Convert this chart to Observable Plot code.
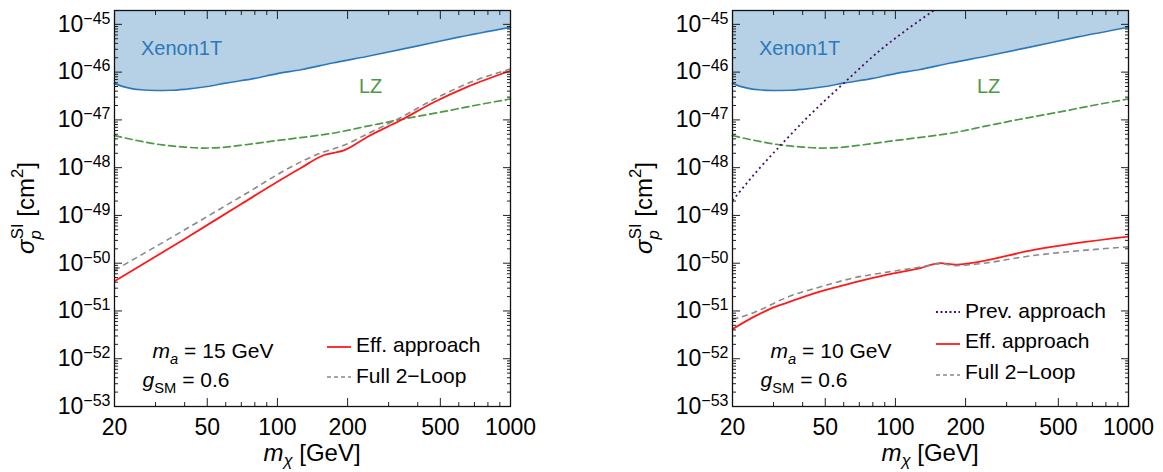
<!DOCTYPE html>
<html><head><meta charset="utf-8">
<script src="https://cdn.jsdelivr.net/npm/d3@7"></script>
<script src="https://cdn.jsdelivr.net/npm/@observablehq/plot@0.6"></script>
<style>
body{margin:0;background:#fff;}
#wrap{position:relative;width:1163px;height:472px;overflow:hidden;background:#fff;}
#wrap svg{position:absolute;top:0;}
</style></head><body><div id="wrap"></div>
<script>
// ---------- data ----------
const xMajor = [20, 50, 100, 200, 500, 1000];
const xMinor = [30, 40, 60, 70, 80, 90, 300, 400, 600, 700, 800, 900];
const yExponents = [-53, -52, -51, -50, -49, -48, -47, -46, -45];
const yTop = 1.95e-45;

const xenonMass  = [20, 22, 24, 26, 30, 35, 40, 50, 60, 80, 100, 126, 172, 250, 400, 600, 1000];
const xenonSigma = [5.75e-47, 4.9e-47, 4.47e-47, 4.27e-47, 4.12e-47, 4.17e-47, 4.37e-47, 5.0e-47, 5.9e-47, 7.4e-47, 9.3e-47, 1.12e-46, 1.55e-46, 2.2e-46, 3.55e-46, 5.4e-46, 8.7e-46];

const lzMass  = [20, 25, 32, 40, 48, 60, 73, 100, 126, 172, 250, 338, 500, 700, 1000];
const lzSigma = [4.7e-48, 3.7e-48, 3.0e-48, 2.7e-48, 2.57e-48, 2.69e-48, 3.02e-48, 3.7e-48, 4.27e-48, 5.25e-48, 7.6e-48, 1.02e-47, 1.45e-47, 2.0e-47, 2.75e-47];

// left panel (m_a = 15 GeV)
const effLeftMass  = [20, 40, 70, 126, 158, 175, 193, 243, 338, 469, 653, 1000];
const effLeftSigma = [4.2e-51, 3.2e-50, 1.74e-49, 9.8e-49, 1.82e-48, 2.04e-48, 2.3e-48, 4.4e-48, 9.8e-48, 2.34e-47, 4.9e-47, 1.07e-46];
const fullLeftMass  = [20, 40, 70, 126, 158, 175, 193, 243, 338, 469, 653, 1000];
const fullLeftSigma = [7.1e-51, 5.0e-50, 2.5e-49, 1.32e-48, 2.14e-48, 2.5e-48, 2.95e-48, 5.1e-48, 1.12e-47, 2.7e-47, 5.75e-47, 1.17e-46];

// right panel (m_a = 10 GeV)
const prevRightMass  = [20, 25.6, 32.2, 42.1, 60.1, 86.2, 112.6, 146, 180];
const prevRightSigma = [2.04e-49, 8.7e-49, 2.95e-48, 1.15e-47, 5.9e-47, 2.9e-46, 7.9e-46, 1.95e-45, 3.9e-45];
const effRightMass  = [20, 24.8, 29.2, 34.4, 47.8, 66, 92.2, 128, 156, 181, 210, 392, 1000];
const effRightSigma = [4.17e-52, 7.6e-52, 1.12e-51, 1.5e-51, 2.57e-51, 3.9e-51, 5.75e-51, 7.9e-51, 1.0e-50, 9.3e-51, 1.0e-50, 1.9e-50, 3.6e-50];
const fullRightMass  = [20, 24.8, 34.4, 47.8, 66, 92.2, 128, 156, 181, 210, 392, 1000];
const fullRightSigma = [6.6e-52, 9.3e-52, 1.95e-51, 3.2e-51, 4.9e-51, 6.5e-51, 8.3e-51, 9.8e-51, 8.9e-51, 9.3e-51, 1.45e-50, 2.2e-50];

const labelText  = ["Xenon1T", "LZ"];
const labelMass  = [38.8, 251];
const labelSigma = [3.16e-46, 5.0e-47];

// ---------- helpers ----------
const table = (ms, ss) => ms.map((m, i) => ({m, s: ss[i]}));
const C = {xenonFill: "#b6d0e6", xenon: "#2b79b9", lz: "#4c9a43", eff: "#ff1a1a", full: "#8a8a8a", prev: "#4b0f63"};
const FONT = "'Liberation Sans', Arial, Helvetica, sans-serif";

function rich(g, x, y, parts, {anchor = "start", size = 21, rotate = 0, fill = "black"} = {}) {
  const t = g.append("text").attr("text-anchor", anchor).attr("font-size", size).attr("fill", fill)
    .attr("transform", `translate(${x},${y})` + (rotate ? ` rotate(${rotate})` : ""));
  let shift = 0;
  for (const p of parts) {
    const ts = t.append("tspan").text(p.t);
    const target = p.sub ? (p.subShift ?? 0.3) * size : p.sup ? -0.45 * size : 0;
    const dy = target - shift;
    if (dy !== 0) { ts.attr("dy", dy); shift = target; }
    if (p.sub || p.sup) ts.attr("font-size", size * 0.7);
    if (p.it) ts.attr("font-style", "italic");
    if (p.dx) ts.attr("dx", p.dx);
  }
  return t;
}

const W = 545, H = 472, ML = 114, MR = 35, MT = 10, MB = 66;
const yMajor = yExponents.map(e => Math.pow(10, e));
const yMinor = [];
for (const e of yExponents) for (let k = 2; k <= 9; k++) { const v = k * Math.pow(10, e); if (v < yTop) yMinor.push(v); }

function panel(cfg) {
  const xen = table(xenonMass, xenonSigma);
  const lz = table(lzMass, lzSigma);
  const labels = labelText.map((t, i) => ({t, m: labelMass[i], s: labelSigma[i]}));
  const curveMarks = cfg.curves.map(c => Plot.line(table(c.mass, c.sigma), {
    x: "m", y: "s", stroke: c.stroke, strokeWidth: c.width, strokeDasharray: c.dash,
    strokeLinecap: c.cap || "butt", curve: "monotone-x", clip: true
  }));
  const tickAx = (k, anchor, ticks, size) => (k === "x" ? Plot.axisX : Plot.axisY)({
    anchor, ticks, tickSize: -size, fill: "none", label: null, stroke: "#222", strokeWidth: 1
  });
  const svg = Plot.plot({
    width: W, height: H, marginLeft: ML, marginRight: MR, marginTop: MT, marginBottom: MB,
    style: {fontFamily: FONT, fontSize: "23px", background: "transparent", color: "black", overflow: "visible"},
    x: {type: "log", domain: [20, 1000]},
    y: {type: "log", domain: [1e-53, yTop]},
    marks: [
      Plot.areaY(xen, {x: "m", y1: "s", y2: () => yTop, fill: C.xenonFill, curve: "monotone-x"}),
      Plot.line(xen, {x: "m", y: "s", stroke: C.xenon, strokeWidth: 1.7, curve: "monotone-x"}),
      Plot.line(lz, {x: "m", y: "s", stroke: C.lz, strokeWidth: 1.7, strokeDasharray: "7,4", curve: "monotone-x"}),
      ...curveMarks,
      Plot.text(labels, {x: "m", y: "s", text: "t", fill: (d) => d.t === "LZ" ? C.lz : C.xenon, fontSize: 20, textAnchor: "middle"}),
      Plot.axisX({anchor: "bottom", ticks: xMajor, tickSize: 0, tickPadding: 12, tickFormat: d => String(d), label: null, fontSize: 23}),
      Plot.axisY({anchor: "left", ticks: yMajor, tickSize: 0, tickPadding: 4, tickFormat: d => "10^\u2212" + Math.round(-Math.log10(d)), label: null, fontSize: 23}),
      tickAx("x", "bottom", xMajor, 8), tickAx("x", "bottom", xMinor, 4),
      tickAx("x", "top", xMajor, 8), tickAx("x", "top", xMinor, 4),
      tickAx("y", "left", yMajor, 8), tickAx("y", "left", yMinor, 4),
      tickAx("y", "right", yMajor, 8), tickAx("y", "right", yMinor, 4),
      Plot.frame({stroke: "#111", strokeWidth: 1.3})
    ]
  });
  svg.style.left = cfg.left + "px";
  const g = d3.select(svg);
  // superscript tick labels
  g.selectAll('g[aria-label="y-axis tick label"] text').each(function () {
    const s = this.textContent;
    const m = s.match(/^10\^(.*)$/);
    if (!m) return;
    const t = d3.select(this); t.text("");
    t.append("tspan").text("10");
    t.append("tspan").attr("dy", "-0.5em").attr("font-size", "16px").text(m[1]);
  });
  const fx = ML, fy = MT, fw = W - ML - MR, fh = H - MT - MB;
  const ann = g.append("g").attr("font-family", FONT);
  // axis titles
  rich(ann, fx + fw / 2, 461, [{t: "m", it: true}, {t: "\u03c7", it: true, sub: true, subShift: 0.22}, {t: " [GeV]"}], {anchor: "middle", size: 24});
  rich(ann, fx - 80, fy + fh / 2, [{t: "\u03c3", it: true}, {t: "p", it: true, sub: true}, {t: "SI", sup: true, dx: -9}, {t: " [cm"}, {t: "2", sup: true}, {t: "]"}], {anchor: "middle", size: 24, rotate: -90});
  // parameter annotations
  rich(ann, fx + 99, 358, [{t: "m", it: true}, {t: "a", it: true, sub: true}, {t: " = " + cfg.ma + " GeV"}], {anchor: "middle", size: 21});
  rich(ann, fx + 72, 387, [{t: "g", it: true}, {t: "SM", sub: true}, {t: " = 0.6"}], {anchor: "middle", size: 21});
  // legend
  cfg.legend.forEach((L) => {
    const c = cfg.curves[L.curve];
    ann.append("line").attr("x1", fx + L.sx).attr("x2", fx + L.sx + 24).attr("y1", L.ly).attr("y2", L.ly)
      .attr("stroke", c.stroke).attr("stroke-width", c.width).attr("stroke-dasharray", c.legendDash || c.dash || null);
    ann.append("text").attr("x", fx + L.sx + 29).attr("y", L.by).attr("text-anchor", "start")
      .attr("font-size", 21).attr("fill", "black").text(L.label);
  });
  document.getElementById("wrap").appendChild(svg);
}

panel({
  left: 0, ma: "15",
  curves: [
    {mass: effLeftMass, sigma: effLeftSigma, stroke: C.eff, width: 1.8},
    {mass: fullLeftMass, sigma: fullLeftSigma, stroke: C.full, width: 1.6, dash: "6,4", legendDash: "4,3"}
  ],
  legend: [
    {curve: 0, label: "Eff. approach", sx: 213, ly: 347, by: 352},
    {curve: 1, label: "Full 2\u2212Loop", sx: 213, ly: 377, by: 383}
  ]
});
panel({
  left: 618, ma: "10",
  curves: [
    {mass: prevRightMass, sigma: prevRightSigma, stroke: C.prev, width: 1.8, dash: "2,3.2", legendDash: "2,2.5"},
    {mass: effRightMass, sigma: effRightSigma, stroke: C.eff, width: 1.8},
    {mass: fullRightMass, sigma: fullRightSigma, stroke: C.full, width: 1.6, dash: "6,4", legendDash: "4,3"}
  ],
  legend: [
    {curve: 0, label: "Prev. approach", sx: 204, ly: 312, by: 318},
    {curve: 1, label: "Eff. approach", sx: 204, ly: 344, by: 348},
    {curve: 2, label: "Full 2\u2212Loop", sx: 204, ly: 375, by: 379}
  ]
});
</script></body></html>
